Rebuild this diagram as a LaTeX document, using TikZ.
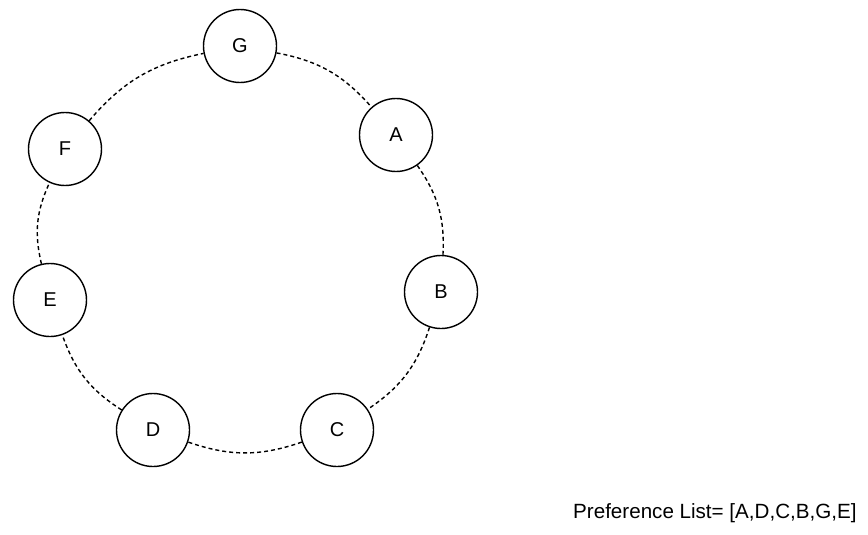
\documentclass[tikz,border=0pt]{standalone}
\usepackage{fontspec}
\setmainfont{Liberation Sans}
\begin{document}
\begin{tikzpicture}[x=1pt,y=-1pt,
  peer/.style={circle,draw=black,line width=1.4pt,minimum size=73pt,inner sep=0pt,fill=white,font=\fontsize{20}{24}\selectfont},
  ring/.style={line width=1.4pt,dash pattern=on 4pt off 3pt}]
\useasboundingbox (0,0) rectangle (868,535);
\node[peer] (G) at (240,46) {G};
\node[peer] (A) at (396,135) {A};
\node[peer] (B) at (441,292) {B};
\node[peer] (C) at (337,430) {C};
\node[peer] (D) at (153,430) {D};
\node[peer] (E) at (50,300) {E};
\node[peer] (F) at (65,149) {F};
\draw[ring] (G) to[bend left=19] (A);
\draw[ring] (A) to[bend left=19] (B);
\draw[ring] (B) to[bend left=19] (C);
\draw[ring] (C) to[bend left=19] (D);
\draw[ring] (D) to[bend left=19] (E);
\draw[ring] (E) to[bend left=19] (F);
\draw[ring] (F) to[bend left=19] (G);
\node[anchor=base west,inner sep=0pt,font=\fontsize{20.6}{24}\selectfont] (pl) at (573,518) {Preference List= [A,D,C,B,G,E]};
\end{tikzpicture}
\end{document}
